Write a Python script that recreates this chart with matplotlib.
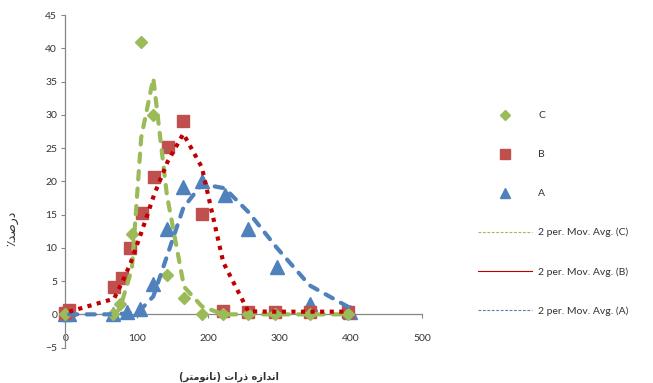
"""Particle size distribution (A, B, C) with 2-period moving-average trendlines."""

import matplotlib
matplotlib.use("Agg")
import matplotlib.pyplot as plt
import numpy as np
from matplotlib.lines import Line2D

# --- data ------------------------------------------------------------------
a_x = [0, 5, 67, 86, 104, 123, 142, 165, 191, 223, 256, 296, 342, 398]
a_y = [0, 0, 0, 0.3, 0.8, 4.6, 12.8, 19.2, 20.0, 17.9, 12.9, 7.1, 1.6, 0.4]

b_x = [0, 5, 68, 79, 91, 107, 124, 143, 165, 191, 221, 256, 293, 342, 396]
b_y = [0.2, 0.6, 4.1, 5.4, 9.9, 15.2, 20.7, 25.2, 29.1, 15.1, 0.5, 0.4, 0.4, 0.4, 0.4]

c_x = [0, 67, 76, 93, 106, 123, 142, 166, 191, 221, 256, 293, 342, 396]
c_y = [0, 0, 1.6, 12.1, 41.0, 30.0, 5.9, 2.4, 0, 0, 0, 0, 0, 0]

x_ticks = [0, 100, 200, 300, 400, 500]
y_ticks = [-5, 0, 5, 10, 15, 20, 25, 30, 35, 40, 45]

GREEN = "#9BBB59"
RED = "#C0504D"
DARK_RED = "#C00000"
BLUE = "#4F81BD"
AXIS_GREY = "#868686"

# --- minimal Persian shaping (matplotlib draws glyphs LTR, unshaped) -------
FORMS = {  # iso, fin, ini, med
    "ا": ("\ufe8d", "\ufe8e", None, None),
    "د": ("\ufea9", "\ufeaa", None, None),
    "ذ": ("\ufeab", "\ufeac", None, None),
    "ر": ("\ufead", "\ufeae", None, None),
    "ز": ("\ufeaf", "\ufeb0", None, None),
    "و": ("\ufeed", "\ufeee", None, None),
    "ت": ("\ufe95", "\ufe96", "\ufe97", "\ufe98"),
    "ص": ("\ufeb9", "\ufeba", "\ufebb", "\ufebc"),
    "م": ("\ufee1", "\ufee2", "\ufee3", "\ufee4"),
    "ن": ("\ufee5", "\ufee6", "\ufee7", "\ufee8"),
    "ه": ("\ufee9", "\ufeea", "\ufeeb", "\ufeec"),
}
DUAL = {k for k, v in FORMS.items() if v[2] is not None}
MIRROR = {"(": ")", ")": "("}


def shape_rtl(text: str) -> str:
    out = []
    for i, ch in enumerate(text):
        if ch not in FORMS:
            out.append(MIRROR.get(ch, ch))
            continue
        prev = text[i - 1] if i > 0 else ""
        nxt = text[i + 1] if i + 1 < len(text) else ""
        jp = prev in DUAL
        jn = ch in DUAL and nxt in FORMS
        iso, fin, ini, med = FORMS[ch]
        out.append(med if jp and jn else fin if jp else ini if jn else iso)
    return "".join(reversed(out))


def mov_avg(x, y, n=2):
    y = np.asarray(y, dtype=float)
    return np.asarray(x[n - 1:]), np.convolve(y, np.ones(n) / n, mode="valid")


plt.rcParams["font.family"] = ["Lato", "DejaVu Sans"]

fig = plt.figure(figsize=(6.53, 3.83), dpi=100)
ax = fig.add_axes([0.1003, 0.0924, 0.5467, 0.8684])

# markers
ax.plot(a_x, a_y, ls="none", marker="^", ms=10, color=BLUE, clip_on=False, zorder=3)
ax.plot(b_x, b_y, ls="none", marker="s", ms=9, color=RED, clip_on=False, zorder=3)
ax.plot(c_x, c_y, ls="none", marker="D", ms=6.5, color=GREEN, clip_on=False, zorder=3)

# moving-average trendlines
ma_x, ma_y = mov_avg(a_x, a_y)
ax.plot(ma_x, ma_y, color=BLUE, lw=3, dashes=(2.0, 2.2), dash_capstyle="round", zorder=4)
ma_x, ma_y = mov_avg(c_x, c_y)
ax.plot(ma_x, ma_y, color=GREEN, lw=3, dashes=(2.0, 2.2), dash_capstyle="round", zorder=5)
ma_x, ma_y = mov_avg(b_x, b_y)
ax.plot(ma_x, ma_y, color=DARK_RED, lw=3, dashes=(1.0, 1.3), zorder=6)

ax.set_xlim(0, 500)
ax.set_ylim(-5, 45)
ax.set_xticks(x_ticks)
ax.set_yticks(y_ticks)
for side in ("top", "right"):
    ax.spines[side].set_visible(False)
for side in ("left", "bottom"):
    ax.spines[side].set_color(AXIS_GREY)
    ax.spines[side].set_linewidth(0.9)
ax.spines["bottom"].set_position(("data", 0))
ax.tick_params(axis="y", direction="out", length=3, width=0.8, color=AXIS_GREY,
               labelsize=7.5, labelcolor="#333333", pad=3)
ax.tick_params(axis="x", direction="out", length=3, width=0.8, color=AXIS_GREY,
               labelsize=7.5, labelcolor="#333333", pad=11)

# axis titles (Persian, pre-shaped into visual order)
fig.text(13 / 653, 1 - 228 / 383, "\u066a" + shape_rtl("درصد"),
         rotation=90, ha="center", va="center", fontsize=9,
         family="DejaVu Sans", color="#333333")
fig.text(229 / 653, 1 - 377 / 383, shape_rtl("اندازه ذرات (نانومتر)"),
         ha="center", va="center", fontsize=7, family="DejaVu Sans",
         fontweight="bold", color="#333333")

handles = [
    Line2D([], [], ls="none", marker="D", ms=5, color=GREEN),
    Line2D([], [], ls="none", marker="s", ms=7, color=RED),
    Line2D([], [], ls="none", marker="^", ms=7.5, color=BLUE),
    Line2D([], [], color=GREEN, lw=0.8, ls=(0, (2.5, 1.5))),
    Line2D([], [], color=DARK_RED, lw=0.8),
    Line2D([], [], color=BLUE, lw=0.8, ls=(0, (2.5, 1.5))),
]
labels = ["C", "B", "A", "2 per. Mov. Avg. (C)", "2 per. Mov. Avg. (B)",
          "2 per. Mov. Avg. (A)"]
fig.legend(handles, labels, loc="upper left", bbox_to_anchor=(478 / 653, 1 - 111 / 383),
           frameon=False, fontsize=7.5, handlelength=5.2, handletextpad=0.6,
           labelspacing=2.85, borderpad=0, borderaxespad=0, labelcolor="#333333")

fig.savefig("out.png", dpi=100)
